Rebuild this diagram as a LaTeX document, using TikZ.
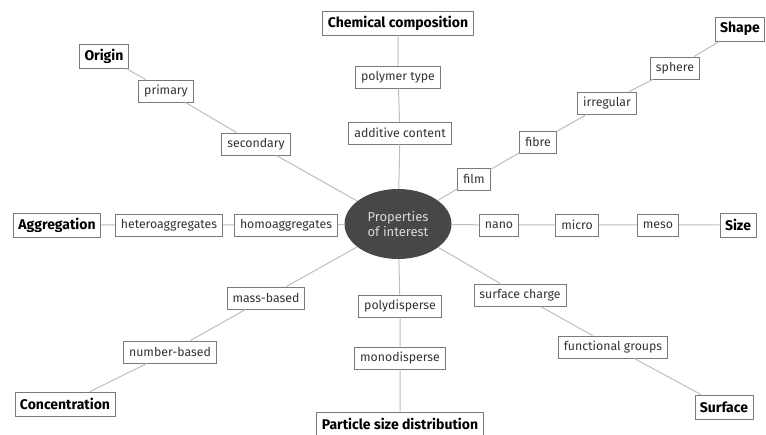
\documentclass[tikz,border=0pt]{standalone}
\usepackage{fontspec}
\setmainfont{Fira Sans}
\usetikzlibrary{shapes.geometric}
\definecolor{boxline}{HTML}{7A7A7A}
\definecolor{linkline}{HTML}{BDBDBD}
\definecolor{hubfill}{HTML}{474747}
\tikzset{
  item/.style={draw=boxline,fill=white,line width=0.9pt,inner xsep=5.5pt,
    minimum height=22pt,font=\fontsize{12.3}{14}\selectfont,text=black!80},
  head/.style={item,font=\fontsize{14}{16}\selectfont\bfseries,text=black,minimum height=24pt,inner xsep=5pt},
  hub/.style={ellipse,fill=hubfill,text=black!15,minimum width=107pt,
    minimum height=70pt,align=center,font=\fontsize{13}{15}\selectfont,inner sep=0pt},
  link/.style={draw=linkline,line width=1pt}
}
\begin{document}
\begin{tikzpicture}[x=1pt,y=-1pt]
\useasboundingbox (0,0) rectangle (766,435);

\node[hub] (hub) at (398,224) {Properties\\of interest};

% origin
\node[head] (orig) at (104,56) {Origin};
\node[item] (prim) at (166,91) {primary};
\node[item] (sec) at (256,144) {secondary};

% chemical composition
\node[head] (chem) at (398,23) {Chemical composition};
\node[item] (poly) at (398,77) {polymer type};
\node[item] (add) at (400,133) {additive content};

% shape
\node[head] (shape) at (740,29) {Shape};
\node[item] (sph) at (675,68) {sphere};
\node[item] (irr) at (607,103) {irregular};
\node[item] (fib) at (538,142) {fibre};
\node[item] (film) at (474,179) {film};

% aggregation
\node[head] (aggr) at (57,225) {Aggregation};
\node[item] (het) at (169,225) {heteroaggregates};
\node[item] (hom) at (286,225) {homoaggregates};

% size
\node[item] (nano) at (499,225) {nano};
\node[item] (micro) at (577,225) {micro};
\node[item] (meso) at (658,225) {meso};
\node[head] (size) at (738,225) {Size};

% concentration
\node[item] (mass) at (266,298) {mass-based};
\node[item] (numb) at (170,352) {number-based};
\node[head] (conc) at (65,404) {Concentration};

% particle size distribution
\node[item] (pdis) at (400,306) {polydisperse};
\node[item] (mdis) at (400,358) {monodisperse};
\node[head] (psd) at (400,424) {Particle size distribution};

% surface
\node[item] (chg) at (520,295) {surface charge};
\node[item] (fgr) at (613,347) {functional groups};
\node[head] (surf) at (724,407) {Surface};

\draw[link] (hub) -- (sec) -- (prim) -- (orig);
\draw[link] (hub) -- (add) -- (poly) -- (chem);
\draw[link] (hub) -- (film) -- (fib) -- (irr) -- (sph) -- (shape);
\draw[link] (hub) -- (hom) -- (het) -- (aggr);
\draw[link] (hub) -- (nano) -- (micro) -- (meso) -- (size);
\draw[link] (hub) -- (mass) -- (numb) -- (conc);
\draw[link] (hub) -- (pdis) -- (mdis) -- (psd);
\draw[link] (hub) -- (chg) -- (fgr) -- (surf);
\end{tikzpicture}
\end{document}
